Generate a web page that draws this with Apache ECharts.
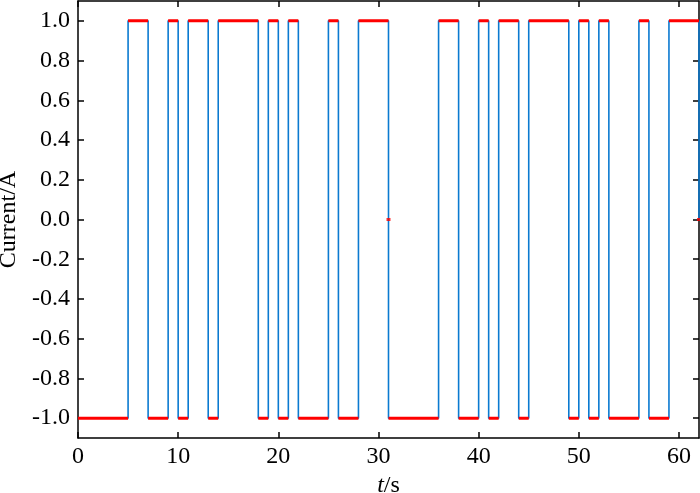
<!DOCTYPE html>
<html>
<head>
<meta charset="utf-8">
<title>Current</title>
<script src="https://cdn.jsdelivr.net/npm/echarts@6/dist/echarts.min.js"></script>
<style>
  html, body { margin: 0; padding: 0; background: #fff; }
  #chart { width: 700px; height: 493px; }
</style>
</head>
<body>
<div id="chart"></div>
<script>
// switching instants (s) and the level held between consecutive instants
var switchTimes = [0, 5, 7, 9, 10, 11, 13, 14, 18, 19, 20, 21, 22, 25, 26, 28, 31,
                   36, 38, 40, 41, 42, 44, 45, 49, 50, 51, 52, 53, 56, 57, 59, 62];
var levels = [-1, 1, -1, 1, -1, 1, -1, 1, -1, 1, -1, 1, -1, 1, -1, 1,
              -1, 1, -1, 1, -1, 1, -1, 1, -1, 1, -1, 1, -1, 1, -1, 1];
// instants where the sample sits at zero
var zeroTimes = [31, 62];
var xTicks = [0, 10, 20, 30, 40, 50, 60];
var yTicks = [-1.0, -0.8, -0.6, -0.4, -0.2, 0.0, 0.2, 0.4, 0.6, 0.8, 1.0];

var blueData = [];
var redData = [];
for (var i = 0; i < levels.length; i++) {
  var t0 = switchTimes[i], t1 = switchTimes[i + 1];
  if (zeroTimes.indexOf(t0) >= 0 && t0 > 0) blueData.push([t0, 0]);
  blueData.push([t0, levels[i]]);
  blueData.push([t1, levels[i]]);
  redData.push([t0, levels[i]]);
  redData.push([t1, levels[i]]);
  redData.push(null);
}
if (zeroTimes.indexOf(switchTimes[switchTimes.length - 1]) >= 0) {
  blueData.push([switchTimes[switchTimes.length - 1], 0]);
}
var zeroData = zeroTimes.map(function (t) { return [t, 0]; });

var font = 'Liberation Serif';
var axisLine = { show: true, onZero: false, lineStyle: { color: '#000', width: 1.5 } };
var tick = { show: true, inside: true, length: 6, lineStyle: { color: '#000', width: 1.5 } };

var chart = echarts.init(document.getElementById('chart'));
chart.setOption({
  animation: false,
  grid: { left: 78, right: 1, top: 1, bottom: 55, outerBoundsMode: 'none', containLabel: false },
  xAxis: [{
    type: 'value', min: 0, max: 62, position: 'bottom',
    axisLine: axisLine,
    axisTick: Object.assign({ customValues: xTicks }, tick),
    axisLabel: { customValues: xTicks, color: '#000', fontFamily: font, fontSize: 24, margin: 7 },
    splitLine: { show: false },
    name: '{i|t}/s', nameLocation: 'middle', nameGap: 35,
    nameTextStyle: { color: '#000', fontFamily: font, fontSize: 24,
      rich: { i: { fontStyle: 'italic', fontFamily: font, fontSize: 24, color: '#000' } } }
  }, {
    type: 'value', min: 0, max: 62, position: 'top',
    axisLine: axisLine,
    axisTick: Object.assign({ customValues: xTicks }, tick),
    axisLabel: { show: false },
    splitLine: { show: false }
  }],
  yAxis: [{
    type: 'value', min: -1.1, max: 1.1, position: 'left',
    axisLine: axisLine,
    axisTick: Object.assign({ customValues: yTicks }, tick),
    axisLabel: { customValues: yTicks, color: '#000', fontFamily: font, fontSize: 24, margin: 8,
      formatter: function (v) { return v.toFixed(1); } },
    splitLine: { show: false },
    name: 'Current/A', nameLocation: 'middle', nameGap: 50,
    nameTextStyle: { color: '#000', fontFamily: font, fontSize: 24 }
  }, {
    type: 'value', min: -1.1, max: 1.1, position: 'right',
    axisLine: axisLine,
    axisTick: Object.assign({ customValues: yTicks }, tick),
    axisLabel: { show: false },
    splitLine: { show: false }
  }],
  series: [{
    type: 'line', data: blueData, showSymbol: false, z: 2,
    lineStyle: { color: '#0B7AD0', width: 1.6 }
  }, {
    type: 'line', data: redData, showSymbol: false, connectNulls: false, z: 3,
    lineStyle: { color: '#FF0000', width: 3 }
  }, {
    type: 'scatter', data: zeroData, symbol: 'rect', symbolSize: [4, 3], z: 4,
    itemStyle: { color: '#FF0000' }
  }]
});
</script>
</body>
</html>
